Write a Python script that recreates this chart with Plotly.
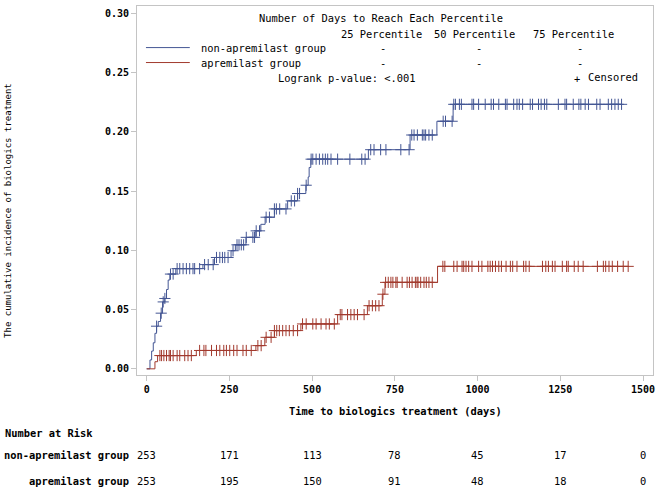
import numpy as np
import plotly.graph_objects as go

# ---------------- data ----------------
groups = ["non-apremilast group", "apremilast group"]

# step times (days) and cumulative incidence after each step
blue_t = [0, 10, 15, 20, 25, 30, 35, 42, 48, 55, 60, 65, 70, 88, 170, 205, 255, 268,
          300, 330, 345, 358, 386, 426, 456, 481, 488, 491, 496, 670, 796, 877, 926]
blue_v = [0, 0.0075, 0.015, 0.022, 0.030, 0.036, 0.040, 0.047, 0.0565, 0.0594, 0.067,
          0.075, 0.080, 0.0846, 0.088, 0.094, 0.0997, 0.1047, 0.111, 0.1165, 0.122,
          0.128, 0.135, 0.1418, 0.148, 0.155, 0.162, 0.170, 0.177, 0.185, 0.1974,
          0.209, 0.2233]

red_t = [0, 25, 33, 150, 330, 357, 386, 466, 577, 667, 712, 720, 879]
red_v = [0, 0.006, 0.0112, 0.0155, 0.0196, 0.0266, 0.0323, 0.0379, 0.0458, 0.0533,
         0.063, 0.073, 0.0865]

# censoring times (days)
blue_cens = [30, 44, 50, 55, 72, 80, 92, 100, 110, 120, 130, 140, 145, 160, 175, 186, 201,
             211, 221, 229, 236, 246, 261, 273, 279, 286, 293, 301, 321, 326, 331, 341,
             361, 371, 386, 392, 402, 421, 437, 447, 456, 462, 482, 497, 502, 512, 522,
             532, 540, 547, 557, 577, 614, 650, 660, 677, 687, 707, 723, 768, 793, 801,
             808, 818, 833, 838, 843, 853, 863, 896, 903, 923, 928, 933, 945, 951, 983,
             988, 1003, 1023, 1041, 1048, 1064, 1084, 1089, 1109, 1119, 1126, 1136, 1159,
             1166, 1184, 1192, 1202, 1209, 1244, 1264, 1269, 1289, 1306, 1312, 1325, 1335,
             1360, 1370, 1395, 1405, 1415, 1425, 1435]
red_cens = [40, 45, 52, 60, 68, 72, 80, 92, 100, 115, 125, 135, 160, 173, 179, 196, 211,
            221, 233, 241, 251, 263, 273, 291, 301, 316, 336, 346, 361, 376, 386, 393,
            401, 411, 421, 431, 443, 456, 471, 482, 502, 512, 527, 542, 552, 567, 585,
            590, 607, 617, 627, 637, 657, 672, 682, 692, 702, 714, 722, 730, 738, 744,
            753, 757, 772, 787, 794, 802, 812, 817, 820, 828, 838, 845, 853, 863, 895,
            901, 928, 938, 953, 958, 965, 973, 983, 1003, 1013, 1031, 1038, 1045, 1054,
            1064, 1072, 1086, 1099, 1106, 1119, 1139, 1146, 1156, 1196, 1206, 1214, 1226,
            1234, 1256, 1269, 1274, 1292, 1304, 1319, 1362, 1380, 1387, 1397, 1407, 1423,
            1440, 1455]

risk_times = [0, 250, 500, 750, 1000, 1250, 1500]
risk_blue = [253, 171, 113, 78, 45, 17, 0]
risk_red = [253, 195, 150, 91, 48, 18, 0]

y_ticks = [0.00, 0.05, 0.10, 0.15, 0.20, 0.25, 0.30]
x_ticks = [0, 250, 500, 750, 1000, 1250, 1500]

BLUE = "#445694"
RED = "#A23A2E"
FONT = "DejaVu Sans Mono"
FRAME = "#c4c4c4"

# plot area in pixels
L, R, T, B = 137, 5, 5, 120
W, H = 660, 495
PW, PH = W - L - R, H - T - B


def px(x):
    return (x - L) / PW


def py(y):
    return (T + PH - y) / PH


def step_at(ts, vs, c):
    idx = np.searchsorted(np.array(ts), np.array(c), side="right") - 1
    return np.array(vs)[idx]


fig = go.Figure()

for t, v, cens, col in [(blue_t, blue_v, blue_cens, BLUE), (red_t, red_v, red_cens, RED)]:
    end = max(cens)
    fig.add_trace(go.Scatter(
        x=list(t) + [end], y=list(v) + [v[-1]], mode="lines",
        line=dict(color=col, width=1, shape="hv"), showlegend=False, hoverinfo="skip"))
    fig.add_trace(go.Scatter(
        x=cens, y=step_at(t, v, cens), mode="markers",
        marker=dict(symbol="cross-thin", size=8, color=col,
                    line=dict(color=col, width=1)),
        showlegend=False, hoverinfo="skip"))

fig.update_layout(
    width=W, height=H,
    margin=dict(l=L, r=R, t=T, b=B),
    paper_bgcolor="white", plot_bgcolor="white",
    font=dict(family=FONT, color="black", size=10),
    xaxis=dict(range=[-29.2, 1530], tickvals=x_ticks, ticktext=[str(v) for v in x_ticks],
               showgrid=False, zeroline=False, showline=True, mirror=True,
               linecolor=FRAME, linewidth=1, ticks="outside", ticklen=5,
               tickcolor=FRAME, tickfont=dict(family=FONT, size=10, weight="bold")),
    yaxis=dict(range=[-0.0052, 0.3063], tickvals=y_ticks,
               ticktext=["%.2f" % v for v in y_ticks],
               showgrid=False, zeroline=False, showline=True, mirror=True,
               linecolor=FRAME, linewidth=1, ticks="outside", ticklen=5,
               tickcolor=FRAME, tickfont=dict(family=FONT, size=10, weight="bold")),
)

ann = []


def text(x, y, s, size=10.4, xanchor="center", bold=False, angle=0, xref="paper"):
    ann.append(dict(
        x=x if xref == "x" else px(x), y=py(y), xref=xref, yref="paper",
        text=s, showarrow=False, xanchor=xanchor, yanchor="middle", textangle=angle,
        font=dict(family=FONT, size=size, color="black",
                  weight="bold" if bold else "normal")))


# inset legend
text(381.5, 16.7, "Number of Days to Reach Each Percentile")
pct_x = [382, 476, 575]
for xx, lab in zip(pct_x, ["25 Percentile", "50 Percentile", "75 Percentile"]):
    text(xx, 32.7, lab)
dash_x = [384, 480, 582]
for gy, g, col in [(46.7, groups[0], BLUE), (61.7, groups[1], RED)]:
    fig.add_shape(type="line", xref="paper", yref="paper",
                  x0=px(146), x1=px(190), y0=py(gy), y1=py(gy),
                  line=dict(color=col, width=1))
    text(199, gy, g, xanchor="left")
    for dx in dash_x:
        text(dx, gy, "-")
text(277, 77.3, "Logrank p-value: <.001", xanchor="left")
text(579, 78.5, "+", xanchor="center")
text(588, 76.3, "Censored", xanchor="left")

# axis titles
text(396, 411, "Time to biologics treatment (days)", size=10.4, bold=True)
text(8, 210, "The cumulative incidence of biologics treatment", size=9, angle=-90)

# number at risk table
text(2, 433, "Number at Risk", xanchor="left", bold=True)
for ry, g, vals in [(455, groups[0], risk_blue), (481, groups[1], risk_red)]:
    text(131, ry, g, xanchor="right", bold=True)
    for tx, v in zip(risk_times, vals):
        text(tx, ry, str(v), xref="x")

fig.update_layout(annotations=ann)
fig.write_html(
    "out.html",
    config={"displayModeBar": False},
    post_script="document.body.style.margin='0';document.body.style.padding='0';",
)
